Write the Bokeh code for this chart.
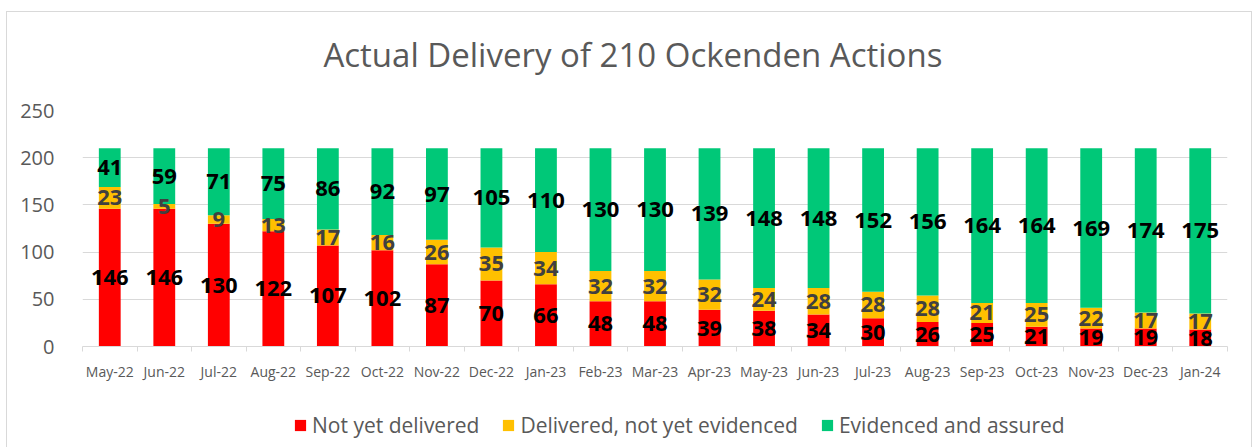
from bokeh.plotting import figure
from bokeh.layouts import column
from bokeh.models import (ColumnDataSource, FixedTicker, LabelSet, Label, Legend,
                          LegendItem, Range1d)
from bokeh.core.properties import value
from bokeh.embed import file_html
from bokeh.resources import INLINE

# ---- data ----
months = ["May-22", "Jun-22", "Jul-22", "Aug-22", "Sep-22", "Oct-22", "Nov-22",
          "Dec-22", "Jan-23", "Feb-23", "Mar-23", "Apr-23", "May-23", "Jun-23",
          "Jul-23", "Aug-23", "Sep-23", "Oct-23", "Nov-23", "Dec-23", "Jan-24"]
not_delivered = [146, 146, 130, 122, 107, 102, 87, 70, 66, 48, 48, 39, 38, 34,
                 30, 26, 25, 21, 19, 19, 18]
delivered_not_evidenced = [23, 5, 9, 13, 17, 16, 26, 35, 34, 32, 32, 32, 24, 28,
                           28, 28, 21, 25, 22, 17, 17]
evidenced = [41, 59, 71, 75, 86, 92, 97, 105, 110, 130, 130, 139, 148, 148,
             152, 156, 164, 164, 169, 174, 175]
series_names = ["Not yet delivered", "Delivered, not yet evidenced",
                "Evidenced and assured"]
y_ticks = [0, 50, 100, 150, 200, 250]
title_text = "Actual Delivery of 210 Ockenden Actions"

colors = ["#FF0000", "#FFC000", "#00C878"]
label_colors = ["#000000", "#404040", "#000000"]
FONT = "Open Sans"
GRAY = "#595959"
GRID = "#D9D9D9"

n = len(months)
xs = list(range(n))
c1 = [a / 2 for a in not_delivered]
c2 = [a + b / 2 for a, b in zip(not_delivered, delivered_not_evidenced)]
c3 = [a + b + c / 2 for a, b, c in zip(not_delivered, delivered_not_evidenced, evidenced)]

src = ColumnDataSource(dict(
    x=xs, nyd=not_delivered, dne=delivered_not_evidenced, ev=evidenced,
    c1=c1, c2=c2, c3=c3,
    t1=[str(v) for v in not_delivered],
    t2=[str(v) for v in delivered_not_evidenced],
    t3=[str(v) for v in evidenced],
))

W = 1244
H_TITLE = 80

# ---- title strip ----
p0 = figure(width=W, height=H_TITLE, x_range=Range1d(0, W), y_range=Range1d(0, H_TITLE),
            output_backend="svg", toolbar_location=None, x_axis_type=None,
            y_axis_type=None, min_border=0)
p0.outline_line_color = None
p0.grid.grid_line_color = None
p0.add_layout(Label(x=598, y=38, text=title_text, text_align="center",
                    text_baseline="alphabetic", text_font=FONT,
                    text_font_size="33px", text_color=GRAY))

# ---- main chart ----
p = figure(width=W, height=383 - H_TITLE, x_range=Range1d(-0.5, n - 0.5),
           y_range=Range1d(0, 250), output_backend="svg", toolbar_location=None,
           min_border_left=75, min_border_right=24, min_border_top=98 - H_TITLE,
           min_border_bottom=49)
p.outline_line_color = None

rs = p.vbar_stack(["nyd", "dne", "ev"], x="x", width=0.4, color=colors,
                  line_color=None, source=src)

for col, txt, lc in [("c1", "t1", label_colors[0]), ("c2", "t2", label_colors[1]),
                     ("c3", "t3", label_colors[2])]:
    p.add_layout(LabelSet(x="x", y=col, text=txt, source=src, text_align="center",
                          text_baseline="middle", text_font=value(FONT),
                          text_font_size="22px", text_font_style="bold",
                          text_color=lc))

p.yaxis.ticker = FixedTicker(ticks=y_ticks)
p.yaxis.axis_line_color = None
p.yaxis.major_tick_line_color = None
p.yaxis.minor_tick_line_color = None
p.yaxis.major_label_standoff = 22
p.yaxis.major_label_text_font = FONT
p.yaxis.major_label_text_font_size = "20px"
p.yaxis.major_label_text_color = GRAY

p.xaxis.ticker = FixedTicker(ticks=xs, minor_ticks=[i - 0.5 for i in range(n + 1)])
p.xaxis.major_label_overrides = {i: m for i, m in enumerate(months)}
p.xaxis.axis_line_color = GRID
p.xaxis.major_tick_out = 0
p.xaxis.major_tick_in = 0
p.xaxis.minor_tick_out = 5
p.xaxis.minor_tick_in = 0
p.xaxis.minor_tick_line_color = GRID
p.xaxis.major_label_standoff = 10
p.xaxis.major_label_text_font = FONT
p.xaxis.major_label_text_font_size = "14px"
p.xaxis.major_label_text_color = GRAY

p.xgrid.grid_line_color = None
p.ygrid.grid_line_color = GRID
p.ygrid.ticker = FixedTicker(ticks=y_ticks)

# ---- legend strip (bars here fall outside its view) ----
p2 = figure(width=W, height=52, x_range=Range1d(-0.5, n - 0.5),
            y_range=Range1d(1000, 1001), output_backend="svg",
            toolbar_location=None, x_axis_type=None, y_axis_type=None, min_border=0)
p2.outline_line_color = None
p2.grid.grid_line_color = None
rs2 = p2.vbar_stack(["nyd", "dne", "ev"], x="x", width=0.4, color=colors,
                    line_color=None, source=src)

legend = Legend(items=[LegendItem(label=series_names[i], renderers=[rs2[i]]) for i in range(3)],
                orientation="horizontal", location=(211, 8),
                glyph_width=14, glyph_height=14, label_height=22, label_standoff=5,
                spacing=22, padding=0, margin=0, border_line_color=None,
                background_fill_alpha=0, label_text_font=FONT,
                label_text_font_size="21px", label_text_color=GRAY)
p2.add_layout(legend)

layout = column(p0, p, p2, spacing=0,
                styles={"margin-left": "6px", "margin-top": "11px",
                        "border-left": "1px solid #D9D9D9",
                        "border-top": "1px solid #D9D9D9",
                        "border-right": "1px solid #D9D9D9"})

open("out.html", "w").write(file_html(layout, INLINE))
